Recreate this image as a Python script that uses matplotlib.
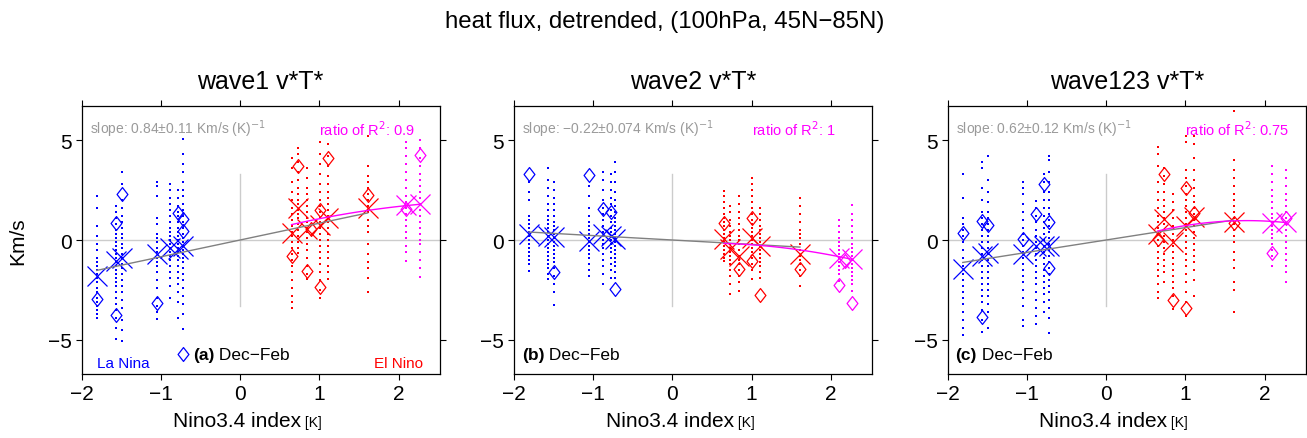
import numpy as np
import matplotlib
matplotlib.use('Agg')
import matplotlib.pyplot as plt
from matplotlib.path import Path

plt.rcParams['font.family'] = ['Liberation Sans', 'DejaVu Sans']

# --- DATA ---
NINO_LA = [-1.81, -1.57, -1.49, -1.05, -0.88, -0.78, -0.72]
NINO_EL = [0.65, 0.73, 0.84, 1.01, 1.11, 1.61]
NINO_EX = [2.10, 2.27]

TITLES = ['wave1 v*T*', 'wave2 v*T*', 'wave123 v*T*']
PANEL_TAGS = ['(a)', '(b)', '(c)']
SLOPES = ['0.84\u00b10.11', '\u22120.22\u00b10.074', '0.62\u00b10.12']
SLOPE_VAL = [0.84, -0.22, 0.62]
RATIO_R2 = ['0.9', '1', '0.75']

# ensemble members per event
W1_LA = [
    [2.2, 1.6, 0.7, 0.2, -0.2, -0.5, -0.9, -1.1, -1.3, -1.5, -1.7, -1.9, -2.1, -2.4, -2.6, -2.9, -3.1, -3.3, -3.5, -3.7, -3.9],
    [1.7, 1.4, 1.1, 0.8, 0.5, 0.3, 0.1, -0.1, -0.3, -0.5, -0.7, -0.9, -1.1, -1.3, -1.5, -1.7, -1.9, -2.1, -2.3, -2.6, -2.9, -3.2, -3.5, -3.9, -4.4, -4.97],
    [3.4, 2.8, 2.0, 1.6, 1.2, 0.9, 0.6, 0.3, 0.1, -0.2, -0.4, -0.7, -0.9, -1.2, -1.4, -1.7, -2.0, -2.3, -2.6, -3.0, -3.4, -4.0, -4.5, -5.05],
    [2.9, 2.7, 2.2, 1.1, 0.8, 0.3, 0.1, -0.1, -0.4, -0.6, -0.9, -1.1, -1.3, -1.6, -2.0, -2.4, -2.9, -3.3, -3.6, -3.97],
    [2.8, 2.5, 2.1, 1.8, 1.5, 1.2, 0.9, 0.6, 0.4, 0.2, 0.0, -0.2, -0.4, -0.6, -0.8, -1.0, -1.3, -1.6, -1.9, -2.3, -2.9],
    [2.5, 2.1, 1.7, 1.4, 1.2, 0.9, 0.6, 0.4, 0.2, 0.0, -0.2, -0.4, -0.6, -0.8, -1.0, -1.3, -1.6, -1.9, -2.2, -2.6, -3.1, -3.9],
    [5.07, 4.3, 3.8, 3.4, 2.9, 2.5, 2.2, 1.8, 1.5, 1.2, 0.9, 0.6, 0.3, 0.1, -0.1, -0.3, -0.5, -0.7, -0.9, -1.1, -1.4, -1.7, -2.0, -2.4, -2.8, -3.2, -3.7, -4.47],
]
W1_EL = [
    [4.1, 3.6, 2.9, 2.4, 2.0, 1.6, 1.3, 1.0, 0.7, 0.4, 0.2, -0.1, -0.4, -0.7, -1.0, -1.3, -1.6, -2.0, -2.4, -2.8, -3.1, -3.4],
    [4.6, 4.3, 3.9, 3.4, 3.0, 2.6, 2.3, 2.0, 1.8, 1.5, 1.3, 1.1, 0.8, 0.5, 0.2, -0.1, -0.4, -0.63],
    [3.6, 3.1, 2.6, 2.3, 2.0, 1.7, 1.4, 1.1, 0.9, 0.6, 0.4, 0.1, -0.2, -0.5, -0.9, -1.3, -1.7, -1.97],
    [4.9, 4.3, 3.8, 3.3, 2.8, 2.4, 2.0, 1.7, 1.4, 1.1, 0.9, 0.6, 0.3, 0.0, -0.3, -0.6, -0.9, -1.2, -1.6, -2.0, -2.5, -2.9],
    [4.8, 4.2, 3.7, 3.2, 2.8, 2.4, 2.1, 1.8, 1.5, 1.2, 0.9, 0.6, 0.3, 0.0, -0.3, -0.6, -0.9, -1.3, -1.6, -1.97],
    [5.2, 3.7, 3.2, 2.9, 2.6, 2.3, 2.0, 1.7, 1.4, 1.0, 0.7, 0.4, -0.2, -0.7, -1.1, -1.4, -1.9, -2.6],
]
W1_EX = [
    [4.9, 4.6, 4.2, 3.8, 3.4, 3.0, 2.6, 2.2, 1.9, 1.6, 1.3, 1.0, 0.7, 0.4, 0.1, -0.3, -0.6, -1.05],
    [5.0, 4.6, 4.1, 3.7, 3.3, 3.0, 2.7, 2.4, 2.1, 1.8, 1.5, 1.2, 0.9, 0.6, 0.3, 0.0, -0.2, -0.6, -1.0, -1.4, -1.83],
]
W2_LA = [
    [2.9, 2.4, 2.0, 1.2, 1.0, 0.8, 0.6, 0.4, 0.2, 0.0, -0.2, -0.4, -0.6, -0.8, -1.0, -1.2, -1.55],
    [3.6, 3.0, 2.6, 2.2, 1.8, 1.5, 1.2, 1.0, 0.8, 0.6, 0.4, 0.2, 0.0, -0.2, -0.4, -0.6, -0.8, -1.0, -1.2, -1.4, -1.7, -1.97],
    [2.9, 2.5, 2.1, 1.8, 1.5, 1.2, 0.9, 0.7, 0.5, 0.3, 0.1, -0.1, -0.3, -0.5, -0.7, -0.9, -1.1, -1.4, -1.8, -2.2, -2.6, -3.27],
    [2.7, 2.2, 1.6, 1.2, 0.9, 0.7, 0.5, 0.3, 0.1, -0.1, -0.3, -0.5, -0.7, -0.9, -1.2, -1.5, -1.8],
    [3.4, 3.0, 2.5, 2.0, 1.6, 1.3, 1.0, 0.7, 0.4, 0.2, 0.0, -0.2, -0.4, -0.7, -1.0, -1.3, -1.7, -2.2],
    [3.3, 2.9, 2.5, 2.1, 1.8, 1.5, 1.2, 0.9, 0.6, 0.4, 0.2, 0.0, -0.2, -0.4, -0.6, -0.9, -1.2, -1.5, -1.9],
    [3.9, 3.4, 2.9, 2.4, 2.0, 1.7, 1.4, 1.1, 0.9, 0.7, 0.5, 0.3, 0.1, -0.1, -0.3, -0.5, -0.7, -0.9, -1.1, -1.3, -1.6, -1.88],
]
W2_EL = [
    [2.45, 2.2, 1.9, 1.6, 1.3, 1.1, 0.9, 0.7, 0.5, 0.3, 0.1, -0.1, -0.3, -0.5, -0.7, -0.9, -1.05],
    [1.7, 1.4, 1.0, 0.7, 0.4, 0.2, 0.0, -0.2, -0.4, -0.6, -0.8, -1.0, -1.2, -1.5, -1.8, -2.2, -2.72],
    [2.2, 1.8, 1.4, 1.1, 0.8, 0.5, 0.2, 0.0, -0.2, -0.5, -0.8, -1.0, -1.2, -1.5, -1.8, -2.1, -2.55],
    [3.1, 2.8, 2.5, 2.2, 1.9, 1.6, 1.3, 1.0, 0.8, 0.6, 0.4, 0.2, 0.0, -0.2, -0.4, -0.6, -0.9, -1.2, -1.5, -1.97],
    [1.6, 1.3, 1.0, 0.7, 0.5, 0.3, 0.1, -0.1, -0.3, -0.5, -0.7, -0.9, -1.1, -1.3, -1.6, -1.88],
    [2.1, 1.7, 1.3, 0.9, 0.5, 0.3, 0.1, -0.2, -0.5, -0.8, -1.0, -1.2, -1.5, -1.8, -2.3],
]
W2_EX = [
    [1.0, 0.7, 0.4, 0.1, -0.1, -0.3, -0.5, -0.7, -0.9, -1.1, -1.3, -1.5, -1.7, -2.05],
    [1.75, 1.3, 1.0, 0.7, 0.4, 0.1, -0.2, -0.4, -0.6, -0.8, -1.0, -1.2, -1.4, -1.6, -1.8, -2.0, -2.2, -2.55],
]
W3_LA = [
    [3.3, 2.1, 1.1, 0.8, 0.5, 0.2, -0.1, -0.5, -0.9, -1.3, -1.7, -2.0, -2.3, -2.6, -2.9, -3.2, -3.6, -4.0, -4.4, -4.77],
    [3.9, 3.6, 2.6, 2.0, 1.4, 1.1, 0.8, 0.5, 0.2, -0.1, -0.4, -0.7, -1.0, -1.3, -1.6, -1.9, -2.2, -2.5, -2.8, -3.1, -3.5, -4.0, -4.6],
    [4.2, 3.0, 2.4, 1.9, 1.4, 1.1, 0.8, 0.5, 0.2, -0.1, -0.4, -0.7, -1.0, -1.3, -1.6, -1.9, -2.2, -2.5, -2.8, -3.2, -3.6, -4.38],
    [2.9, 2.6, 2.3, 1.8, 1.4, 1.0, 0.6, 0.3, 0.0, -0.3, -0.6, -0.9, -1.2, -1.5, -1.8, -2.1, -2.5, -2.9, -3.3, -4.0, -4.3],
    [1.95, 1.6, 1.2, 0.9, 0.5, 0.2, -0.1, -0.4, -0.7, -1.0, -1.3, -1.6, -1.9, -2.2, -2.6, -3.0, -3.4, -3.8, -4.22],
    [3.3, 2.9, 2.4, 2.0, 1.6, 1.2, 0.9, 0.6, 0.3, 0.0, -0.3, -0.6, -0.9, -1.2, -1.5, -1.8, -2.1, -2.4, -2.7, -3.1, -3.6],
    [4.2, 4.0, 3.4, 2.9, 2.4, 2.0, 1.6, 1.3, 1.0, 0.7, 0.4, 0.1, -0.2, -0.5, -0.8, -1.1, -1.4, -1.7, -2.0, -2.3, -2.6, -3.0, -3.4, -3.9, -4.63],
]
W3_EL = [
    [4.67, 4.3, 3.7, 2.9, 2.4, 2.0, 1.6, 1.2, 0.9, 0.6, 0.3, 0.0, -0.3, -0.6, -0.9, -1.2, -1.5, -1.8, -2.2, -2.6, -2.92],
    [3.6, 3.2, 2.8, 2.4, 2.0, 1.7, 1.4, 1.1, 0.8, 0.5, 0.2, -0.1, -0.4, -0.7, -1.0, -1.3, -1.6, -2.12],
    [2.3, 1.9, 1.5, 1.1, 0.7, 0.3, 0.0, -0.3, -0.6, -0.9, -1.2, -1.5, -1.8, -2.1, -2.4, -2.8, -3.45],
    [5.2, 4.9, 3.5, 3.1, 2.7, 2.3, 2.0, 1.7, 1.4, 1.1, 0.8, 0.5, 0.2, -0.1, -0.4, -0.7, -1.0, -1.3, -1.7, -2.1, -2.6, -3.1, -3.78],
    [5.18, 4.8, 4.1, 3.5, 3.0, 2.6, 2.2, 1.9, 1.6, 1.3, 1.0, 0.7, 0.4, 0.1, -0.2, -0.5, -0.8, -1.1, -1.5, -2.0, -2.78],
    [6.47, 4.0, 3.5, 3.1, 2.7, 2.3, 2.0, 1.7, 1.4, 1.1, 0.8, 0.5, 0.2, -0.1, -0.6, -1.0, -1.4, -2.1, -2.5, -3.58],
]
W3_EX = [
    [3.7, 3.3, 2.9, 2.5, 2.2, 1.9, 1.6, 1.3, 1.1, 0.9, 0.7, 0.5, 0.3, 0.1, -0.2, -0.5, -0.8, -1.28],
    [3.5, 3.1, 2.7, 2.3, 2.0, 1.7, 1.4, 1.1, 0.8, 0.5, 0.2, -0.1, -0.4, -0.7, -1.0, -1.3, -1.6, -2.08],
]

# ensemble means (crosses)
MEAN_LA = [[-1.8, -1.05, -0.88, -0.72, -0.38, -0.47, -0.3],
           [0.3, 0.22, 0.13, -0.03, 0.3, 0.22, 0.05],
           [-1.47, -0.8, -0.63, -0.72, -0.3, -0.3, -0.3]]
MEAN_EL = [[0.37, 1.62, 0.53, 0.75, 1.1, 1.6],
           [0.03, -0.47, -0.8, 0.12, -0.3, -0.72],
           [0.3, 1.05, -0.12, 0.72, 1.13, 0.92]]
MEAN_EX = [[1.73, 1.8], [-0.88, -0.97], [0.85, 0.88]]

# observations (diamonds): x, y
OBS_LA_X = [[-1.81, -1.57, -1.57, -1.49, -1.05, -0.78, -0.72, -0.72],
            [-1.81, -1.49, -1.05, -0.88, -0.78, -0.72],
            [-1.81, -1.57, -1.57, -1.49, -1.05, -0.88, -0.78, -0.72, -0.72]]
OBS_LA_Y = [[-2.93, 0.83, -3.77, 2.28, -3.17, 1.37, 1.03, 0.45],
            [3.28, -1.58, 3.23, 1.53, 1.4, -2.47],
            [0.37, 0.95, -3.83, 0.73, 0.07, 1.28, 2.78, 0.9, -1.38]]
OBS_EL_X = [[0.65, 0.73, 0.84, 0.9, 1.01, 1.01, 1.11, 1.61],
            [0.65, 0.84, 1.01, 1.01, 1.11, 1.61],
            [0.65, 0.73, 0.84, 1.01, 1.01, 1.11, 1.61]]
OBS_EL_Y = [[-0.8, 3.7, -1.55, 0.55, 1.5, -2.35, 4.12, 2.23],
            [0.83, -1.47, 1.12, -1.05, -2.75, -1.47],
            [0.05, 3.3, -3.0, 2.58, -3.42, 1.35, 0.85]]
OBS_EX_X = [[2.10, 2.27], [2.10, 2.18, 2.27], [2.10, 2.27]]
OBS_EX_Y = [[1.55, 4.23], [-2.25, -1.05, -3.17], [-0.65, 1.08]]

# El Nino fit curve, read at a few points
FIT_X = [[0.65, 1.11, 1.61, 2.27],
         [0.65, 1.11, 1.61, 2.27],
         [0.65, 1.11, 1.61, 1.81, 2.27]]
FIT_Y = [[0.78, 1.12, 1.5, 1.78],
         [-0.17, -0.27, -0.5, -0.97],
         [0.45, 0.78, 0.96, 0.97, 0.87]]

BLUE, RED, MAG = '#0000FF', '#FF0000', '#FF00FF'
GREY_TXT = '#9A9A9A'

members = [(W1_LA, W1_EL, W1_EX), (W2_LA, W2_EL, W2_EX), (W3_LA, W3_EL, W3_EX)]

diamond = Path([(0, 1), (0.78, 0), (0, -1), (-0.78, 0), (0, 1)],
               [Path.MOVETO, Path.LINETO, Path.LINETO, Path.LINETO, Path.CLOSEPOLY])

fig = plt.figure(figsize=(13.07, 4.39), dpi=100)
lefts = [81.7, 514, 947.7]
axes = []
for i in range(3):
    ax = fig.add_axes([lefts[i] / 1307, 1 - 375 / 439, 358 / 1307, 268 / 439])
    axes.append(ax)
    ax.set_xlim(-2, 2.52)
    ax.set_ylim(-6.7, 6.7)
    ax.set_xticks([-2, -1, 0, 1, 2])
    ax.set_yticks([-5, 0, 5])
    ax.tick_params(direction='out', length=4, width=0.8, labelsize=15, pad=3,
                   top=True, right=True)
    for s in ax.spines.values():
        s.set_linewidth(0.9)

    ax.axhline(0, color='#CCCCCC', lw=1, zorder=1)
    ax.plot([0, 0], [-3.3, 3.3], color='#CCCCCC', lw=1, zorder=1)

    la, el, ex = members[i]
    for x, vals in zip(NINO_LA, la):
        ax.plot([x] * len(vals), vals, 's', ms=2.0, mew=0, color=BLUE, zorder=2)
    for x, vals in zip(NINO_EL, el):
        ax.plot([x] * len(vals), vals, 's', ms=2.0, mew=0, color=RED, zorder=2)
    for x, vals in zip(NINO_EX, ex):
        ax.plot([x] * len(vals), vals, 's', ms=2.0, mew=0, color=MAG, zorder=2)

    ax.plot(NINO_LA, MEAN_LA[i], 'x', ms=14, mew=0.9, color=BLUE, zorder=3)
    ax.plot(NINO_EL, MEAN_EL[i], 'x', ms=14, mew=0.9, color=RED, zorder=3)
    ax.plot(NINO_EX, MEAN_EX[i], 'x', ms=14, mew=0.9, color=MAG, zorder=3)

    ax.plot(OBS_LA_X[i], OBS_LA_Y[i], ls='none', marker=diamond, ms=10, mew=0.9,
            mfc='none', mec=BLUE, zorder=3)
    ax.plot(OBS_EL_X[i], OBS_EL_Y[i], ls='none', marker=diamond, ms=10, mew=0.9,
            mfc='none', mec=RED, zorder=3)
    ax.plot(OBS_EX_X[i], OBS_EX_Y[i], ls='none', marker=diamond, ms=10, mew=0.9,
            mfc='none', mec=MAG, zorder=3)

    # regression through origin
    gx = np.array([NINO_LA[0], NINO_EL[-1]])
    ax.plot(gx, SLOPE_VAL[i] * gx, color='#808080', lw=1, zorder=4)

    # El Nino fit
    c = np.polyfit(FIT_X[i], FIT_Y[i], 2)
    fx = np.linspace(FIT_X[i][0], FIT_X[i][-1], 50)
    ax.plot(fx, np.polyval(c, fx), color=MAG, lw=1, zorder=4)

    ax.text(0.023, 0.918, 'slope: ' + SLOPES[i] + ' Km/s (K)$^{-1}$',
            transform=ax.transAxes, color=GREY_TXT, fontsize=10, va='center')
    ax.text(1.0, 5.55, 'ratio of R$^{2}$: ' + RATIO_R2[i], color=MAG,
            fontsize=10.5, va='center')

    tx = 0.311 if i == 0 else 0.022
    t = ax.text(tx, 0.071, PANEL_TAGS[i], transform=ax.transAxes,
                fontsize=12.5, fontweight='bold', va='center')
    ax.annotate(' Dec\u2212Feb', xy=(1.0, 0.071), xycoords=(t, 'axes fraction'),
                fontsize=12.5, va='center')

    ax.text(0.5, 1.093, TITLES[i], transform=ax.transAxes, ha='center',
            va='center', fontsize=18)

    m = ax.text(0.435, -0.194, 'Nino3.4 index', transform=ax.transAxes,
                ha='center', va='baseline', fontsize=15)
    ax.annotate(' [K]', xy=(1.0, -0.194), xycoords=(m, 'axes fraction'),
                ha='left', va='baseline', fontsize=10)

ax = axes[0]
ax.plot([0.283], [0.075], transform=ax.transAxes, ls='none', marker=diamond,
        ms=10, mew=0.9, mfc='none', mec=BLUE)
ax.text(0.043, 0.041, 'La Nina', transform=ax.transAxes, color=BLUE,
        fontsize=11, va='center')
ax.text(0.953, 0.041, 'El Nino', transform=ax.transAxes, color=RED,
        fontsize=11, va='center', ha='right')

fig.text(18 / 1307, 1 - 241 / 439, 'Km/s', rotation=90, ha='center',
         va='center', fontsize=15)
fig.text(665 / 1307, 1 - 22 / 439, 'heat flux, detrended, (100hPa, 45N\u221285N)',
         ha='center', va='center', fontsize=17.3)

fig.savefig('out.png', dpi=100)
